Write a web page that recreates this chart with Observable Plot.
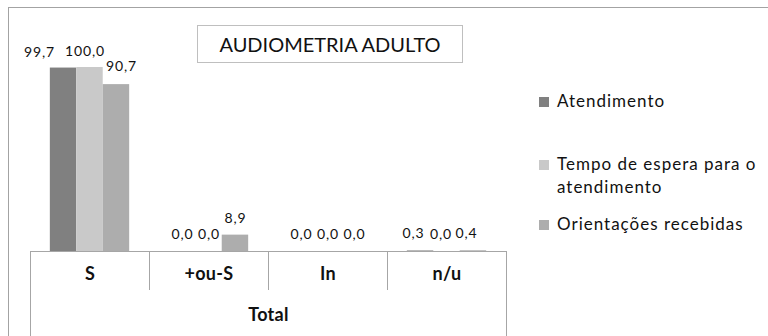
<!DOCTYPE html>
<html>
<head>
<meta charset="utf-8">
<script src="https://cdn.jsdelivr.net/npm/d3@7"></script>
<script src="https://cdn.jsdelivr.net/npm/@observablehq/plot@0.6"></script>
<style>
html, body { margin: 0; padding: 0; background: #fff; }
#chart { position: relative; width: 768px; height: 336px; overflow: hidden; font-family: Lato, sans-serif; color: #111; }
#chart svg { position: absolute; left: 0; top: 0; }
#chart svg text { letter-spacing: 0.9px; }
#chart svg g[font-weight="bold"] text { letter-spacing: 0.3px; }
.outer { position: absolute; left: 8px; top: 7px; width: 900px; height: 500px; border: 1px solid #a3a3a3; box-sizing: border-box; }
.title { position: absolute; left: 197px; top: 25px; width: 266px; height: 38px; border: 1px solid #bfbfbf; box-sizing: border-box; display: flex; align-items: center; justify-content: center; font-size: 20px; color: #111; }
.legend-item { position: absolute; left: 539px; display: flex; align-items: flex-start; font-size: 17px; line-height: 22.5px; letter-spacing: 1px; color: #111; }
.sw { width: 10px; height: 10px; margin-top: 6.5px; margin-right: 8px; flex: none; }
.lt { width: 214px; }
</style>
</head>
<body>
<div id="chart"><div class="outer"></div></div>
<script>
const chartTitle = "AUDIOMETRIA ADULTO";
const groupTitle = "Total";
const categories = ["S", "+ou-S", "In", "n/u"];
const seriesNames = ["Atendimento", "Tempo de espera para o atendimento", "Orientações recebidas"];
const atendimento = [99.7, 0.0, 0.0, 0.3];
const tempoEspera = [100.0, 0.0, 0.0, 0.0];
const orientacoes = [90.7, 8.9, 0.0, 0.4];
const seriesColors = ["#808080", "#c9c9c9", "#adadad"];

const seriesValues = [atendimento, tempoEspera, orientacoes];
const rows = [];
seriesValues.forEach((vals, si) => {
  vals.forEach((v, ci) => rows.push({ci, si, cat: categories[ci], series: seriesNames[si], value: v}));
});

const nS = seriesNames.length;
const gapWidth = 1.5; // Excel-style gap width (150%)
const slot = d => d.ci + (gapWidth / 2 + d.si) / (nS + gapWidth);
const mid = d => slot(d) + 0.5 / (nS + gapWidth);
const fmt = d => d.value.toFixed(1).replace(".", ",");
const axisColor = "#a6a6a6";

function label(filter, dx, dy) {
  return Plot.text(rows, {filter, x: mid, y: "value", text: fmt, dx, dy, fontSize: 14, fill: "#111"});
}

const plot = Plot.plot({
  width: 768,
  height: 336,
  marginLeft: 30,
  marginRight: 262,
  marginTop: 67,
  marginBottom: 85,
  style: {fontFamily: "Lato, sans-serif", background: "transparent", overflow: "visible"},
  x: {type: "linear", domain: [0, categories.length], axis: null},
  y: {domain: [0, 100], axis: null},
  color: {domain: seriesNames, range: seriesColors},
  marks: [
    Plot.rect(rows, {x1: slot, x2: d => slot(d) + 1 / (nS + gapWidth), y1: 0, y2: "value", fill: "series"}),
    Plot.ruleY([0], {stroke: axisColor}),
    Plot.ruleX(d3.range(1, categories.length), {x: d => d, y1: 0, y2: 0, insetBottom: -39, stroke: axisColor}),
    Plot.ruleX([0, categories.length], {x: d => d, y1: 0, y2: 0, insetBottom: -100, stroke: axisColor}),
    Plot.text(categories, {x: (d, i) => i + 0.5, frameAnchor: "bottom", text: d => d, dy: 28, fontSize: 18, fontWeight: "bold", fill: "#111"}),
    Plot.text([groupTitle], {frameAnchor: "bottom", text: d => d, dy: 69, fontSize: 18, fontWeight: "bold", fill: "#111"}),
    label(d => d.cat !== "S" && d.cat !== "n/u", 0, -17),
    label(d => d.cat === "S" && d.si === 0, -24, -15.5),
    label(d => d.cat === "S" && d.si === 1, -5, -15.5),
    label(d => d.cat === "S" && d.si === 2, 5, -18),
    label(d => d.cat === "n/u" && d.si === 0, -7, -17),
    label(d => d.cat === "n/u" && d.si === 1, -6, -17),
    label(d => d.cat === "n/u" && d.si === 2, -7, -17)
  ]
});

const chart = document.getElementById("chart");
chart.appendChild(plot);

const t = document.createElement("div");
t.className = "title";
t.textContent = chartTitle;
chart.appendChild(t);

const legendTops = [90, 153, 213];
seriesNames.forEach((name, i) => {
  const item = document.createElement("div");
  item.className = "legend-item";
  item.style.top = legendTops[i] + "px";
  const sw = document.createElement("div");
  sw.className = "sw";
  sw.style.background = seriesColors[i];
  const lt = document.createElement("div");
  lt.className = "lt";
  lt.textContent = name;
  item.appendChild(sw);
  item.appendChild(lt);
  chart.appendChild(item);
});
</script>
</body>
</html>
